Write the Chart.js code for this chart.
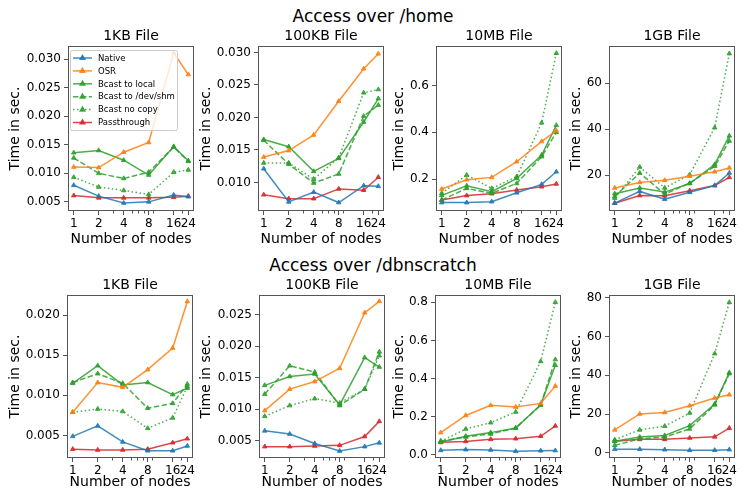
<!DOCTYPE html>
<html>
<head>
<meta charset="utf-8">
<script src="https://cdn.jsdelivr.net/npm/chart.js@4.4.0/dist/chart.umd.min.js"></script>
<style>
body { margin: 0; background: #fff; width: 740px; height: 492px; position: relative; overflow: hidden; font-family: "DejaVu Sans"; }
canvas { position: absolute; }
.sup { position: absolute; left: 0; width: 746px; text-align: center; font-size: 17px; color: #000; }
</style>
</head>
<body>
<div class="sup" style="top:6px">Access over /home</div>
<div class="sup" style="top:255px">Access over /dbnscratch</div>
<script>
const nodes = [1, 2, 4, 8, 16, 24];
const minorNodes = [3, 5, 6, 7, 9, 20];
const seriesNames = ['Native', 'OSR', 'Bcast to local', 'Bcast to /dev/shm', 'Bcast no copy', 'Passthrough'];
const fileTitles = ['1KB File', '100KB File', '10MB File', '1GB File'];

// rows follow seriesNames order
const home1KB = [
    [0.0079, 0.0060, 0.0048, 0.0050, 0.0062, 0.0059],
    [0.0111, 0.0110, 0.0137, 0.0154, 0.0311, 0.0273],
    [0.0136, 0.0140, 0.0123, 0.0097, 0.0147, 0.0122],
    [0.0127, 0.0100, 0.0091, 0.0102, 0.0146, 0.0121],
    [0.0093, 0.0076, 0.0070, 0.0063, 0.0102, 0.0106],
    [0.0061, 0.0057, 0.0057, 0.0057, 0.0058, 0.0060]
];
const home100KB = [
    [0.0121, 0.0070, 0.0085, 0.0069, 0.0095, 0.0094],
    [0.0139, 0.0149, 0.0173, 0.0225, 0.0275, 0.0298],
    [0.0166, 0.0155, 0.0117, 0.0137, 0.0193, 0.0229],
    [0.0165, 0.0128, 0.0099, 0.0113, 0.0202, 0.0219],
    [0.0130, 0.0130, 0.0105, 0.0138, 0.0238, 0.0243],
    [0.0081, 0.0075, 0.0075, 0.0090, 0.0088, 0.0108]
];
const home10MB = [
    [0.099, 0.099, 0.103, 0.141, 0.177, 0.231],
    [0.157, 0.197, 0.207, 0.274, 0.361, 0.407],
    [0.130, 0.171, 0.146, 0.203, 0.303, 0.430],
    [0.110, 0.160, 0.139, 0.181, 0.296, 0.400],
    [0.139, 0.217, 0.160, 0.210, 0.441, 0.739],
    [0.110, 0.129, 0.137, 0.153, 0.167, 0.179]
];
const home1GB = [
    [7.9, 13.0, 9.6, 12.6, 15.5, 21.0],
    [14.5, 16.9, 17.8, 19.6, 21.5, 23.2],
    [12.0, 14.5, 12.7, 16.4, 24.7, 37.1],
    [10.8, 21.0, 11.8, 16.6, 23.9, 34.9],
    [10.1, 23.6, 14.5, 20.3, 40.7, 72.8],
    [7.9, 11.2, 11.1, 13.3, 15.6, 19.1]
];
const dbn1KB = [
    [0.0049, 0.0062, 0.0042, 0.0031, 0.0031, 0.0037],
    [0.0079, 0.0116, 0.0110, 0.0132, 0.0159, 0.0217],
    [0.0115, 0.0137, 0.0113, 0.0116, 0.0101, 0.0109],
    [0.0116, 0.0127, 0.0115, 0.0084, 0.0090, 0.0114],
    [0.0079, 0.0083, 0.0080, 0.0059, 0.0072, 0.0111],
    [0.0033, 0.0032, 0.0032, 0.0033, 0.0041, 0.0046]
];
const dbn100KB = [
    [0.0066, 0.0061, 0.0046, 0.0034, 0.0041, 0.0047],
    [0.0098, 0.0132, 0.0144, 0.0165, 0.0253, 0.0271],
    [0.0138, 0.0152, 0.0156, 0.0107, 0.0182, 0.0167],
    [0.0124, 0.0169, 0.0159, 0.0106, 0.0132, 0.0191],
    [0.0089, 0.0106, 0.0117, 0.0110, 0.0132, 0.0185],
    [0.0041, 0.0041, 0.0042, 0.0043, 0.0057, 0.0081]
];
const dbn10MB = [
    [0.024, 0.028, 0.026, 0.019, 0.022, 0.023],
    [0.117, 0.207, 0.260, 0.251, 0.270, 0.361],
    [0.066, 0.098, 0.117, 0.141, 0.263, 0.470],
    [0.073, 0.094, 0.110, 0.141, 0.261, 0.500],
    [0.071, 0.136, 0.169, 0.225, 0.490, 0.800],
    [0.066, 0.071, 0.082, 0.085, 0.098, 0.152]
];
const dbn1GB = [
    [1.9, 1.9, 1.7, 1.4, 1.4, 1.7],
    [11.9, 20.1, 20.9, 24.3, 28.3, 30.0],
    [6.0, 8.2, 9.0, 14.1, 25.2, 41.4],
    [3.9, 7.3, 8.2, 12.4, 24.8, 40.9],
    [6.8, 11.9, 13.8, 20.6, 51.2, 77.6],
    [6.0, 7.0, 7.0, 7.7, 8.3, 12.8]
];

const yTicks1KBHome = [0.005, 0.010, 0.015, 0.020, 0.025, 0.030];
const yTicks100KBHome = [0.010, 0.015, 0.020, 0.025, 0.030];
const yTicks10MBHome = [0.2, 0.4, 0.6];
const yTicks1GBHome = [20, 40, 60];
const yTicks1KBDbn = [0.005, 0.010, 0.015, 0.020];
const yTicks100KBDbn = [0.005, 0.010, 0.015, 0.020, 0.025];
const yTicks10MBDbn = [0.0, 0.2, 0.4, 0.6, 0.8];
const yTicks1GBDbn = [0, 20, 40, 60, 80];

const colors = ['rgba(31,119,180,0.85)', 'rgba(255,127,14,0.85)', 'rgba(44,160,44,0.85)',
    'rgba(44,160,44,0.85)', 'rgba(44,160,44,0.85)', 'rgba(214,39,40,0.85)'];
const dashes = [[], [], [], [5.5, 2.4], [1.5, 2.5], []];
const FONT = '"DejaVu Sans"';
const PLOT_W = 126;
const TITLE_H = 19;

const panels = [
    { rows: home1KB, title: fileTitles[0], ticks: yTicks1KBHome, min: 0.0034, max: 0.0323, dec: 3, L: 68, tc: 15, T: 46, H: 165, xh: 37, legend: true },
    { rows: home100KB, title: fileTitles[1], ticks: yTicks100KBHome, min: 0.0056, max: 0.0310, dec: 3, L: 258, tc: 206, T: 46, H: 165, xh: 37 },
    { rows: home10MB, title: fileTitles[2], ticks: yTicks10MBHome, min: 0.063, max: 0.770, dec: 1, L: 436, tc: 399, T: 46, H: 165, xh: 37 },
    { rows: home1GB, title: fileTitles[3], ticks: yTicks1GBHome, min: 4.5, max: 76.1, dec: 0, L: 609, tc: 576, T: 46, H: 165, xh: 37 },
    { rows: dbn1KB, title: fileTitles[0], ticks: yTicks1KBDbn, min: 0.0022, max: 0.0225, dec: 3, L: 67, tc: 15, T: 295, H: 163, xh: 33 },
    { rows: dbn100KB, title: fileTitles[1], ticks: yTicks100KBDbn, min: 0.0023, max: 0.0281, dec: 3, L: 259, tc: 206, T: 295, H: 163, xh: 33 },
    { rows: dbn10MB, title: fileTitles[2], ticks: yTicks10MBDbn, min: -0.016, max: 0.838, dec: 1, L: 435, tc: 399, T: 295, H: 163, xh: 33 },
    { rows: dbn1GB, title: fileTitles[3], ticks: yTicks1GBDbn, min: -2.6, max: 81.4, dec: 0, L: 609, tc: 576, T: 295, H: 163, xh: 33 }
];

// axes box, minor x ticks and a title centred on the plot area (matplotlib style)
const framePlugin = {
    id: 'frame',
    afterDraw(chart, args, opts) {
        const { ctx, chartArea: a } = chart;
        const x = chart.scales.x;
        ctx.save();
        ctx.strokeStyle = '#555';
        ctx.lineWidth = 1;
        ctx.strokeRect(Math.round(a.left) + 0.5, Math.round(a.top) + 0.5, Math.round(a.width) - 1, Math.round(a.height) - 1);
        for (const v of minorNodes) {
            const px = Math.round(x.getPixelForValue(v)) + 0.5;
            ctx.beginPath();
            ctx.moveTo(px, a.bottom);
            ctx.lineTo(px, a.bottom + 2.5);
            ctx.stroke();
        }
        ctx.fillStyle = '#000';
        ctx.font = '14px ' + FONT;
        ctx.textAlign = 'center';
        ctx.textBaseline = 'middle';
        ctx.fillText(opts.text, (a.left + a.right) / 2, a.top - 10);
        ctx.restore();
    }
};

const legendPlugin = {
    id: 'boxLegend',
    afterDraw(chart) {
        const { ctx, chartArea: a } = chart;
        const bx = a.left + 2, by = a.top + 4, bw = 107, bh = 80;
        ctx.save();
        ctx.fillStyle = 'rgba(255,255,255,0.8)';
        ctx.strokeStyle = '#ccc';
        ctx.lineWidth = 1;
        ctx.beginPath();
        ctx.roundRect(bx + 0.5, by + 0.5, bw, bh, 2);
        ctx.fill();
        ctx.stroke();
        chart.data.datasets.forEach((ds, i) => {
            const y = by + 8 + i * 12.9;
            ctx.strokeStyle = ds.borderColor;
            ctx.fillStyle = ds.borderColor;
            ctx.lineWidth = 1.5;
            ctx.setLineDash(ds.borderDash);
            ctx.beginPath();
            ctx.moveTo(bx + 3, y);
            ctx.lineTo(bx + 22, y);
            ctx.stroke();
            ctx.setLineDash([]);
            Chart.helpers.drawPoint(ctx, { pointStyle: 'triangle', radius: 2.6, borderWidth: 1, rotation: 0 }, bx + 12.5, y);
            ctx.fillStyle = '#000';
            ctx.font = '8.5px ' + FONT;
            ctx.textBaseline = 'middle';
            ctx.fillText(ds.label, bx + 28, y + 0.5);
        });
        ctx.restore();
    }
};

function makeChart(p) {
    const left = Math.round(p.tc - 8.4);
    const yw = p.L - left;
    const w = yw + PLOT_W + 10;
    const h = TITLE_H + p.H + p.xh;
    const cv = document.createElement('canvas');
    cv.width = w;
    cv.height = h;
    cv.style.left = left + 'px';
    cv.style.top = (p.T - TITLE_H) + 'px';
    document.body.appendChild(cv);

    new Chart(cv, {
        type: 'line',
        data: {
            datasets: p.rows.map((vals, i) => ({
                label: seriesNames[i],
                data: nodes.map((n, j) => ({ x: n, y: vals[j] })),
                borderColor: colors[i],
                backgroundColor: colors[i],
                borderWidth: 1.5,
                borderDash: dashes[i],
                pointStyle: 'triangle',
                pointRadius: 2.6,
                pointBorderWidth: 1,
                tension: 0
            }))
        },
        options: {
            responsive: false,
            animation: false,
            devicePixelRatio: 1,
            layout: { padding: { top: TITLE_H, right: 10, bottom: 0, left: 0 } },
            plugins: {
                legend: { display: false },
                tooltip: { enabled: false },
                title: { display: false },
                frame: { text: p.title }
            },
            scales: {
                x: {
                    type: 'logarithmic',
                    min: 0.853, max: 28.1,
                    afterBuildTicks: s => { s.ticks = nodes.map(v => ({ value: v })); },
                    afterFit: s => { s.height = p.xh; },
                    ticks: {
                        autoSkip: false, maxRotation: 0, padding: 2, color: '#000',
                        font: { family: FONT, size: 12 },
                        callback: v => String(v)
                    },
                    grid: { display: true, drawOnChartArea: false, tickLength: 4, color: '#555' },
                    border: { display: false },
                    title: {
                        display: true, text: 'Number of nodes', color: '#000',
                        font: { family: FONT, size: 14 }, padding: 0
                    }
                },
                y: {
                    min: p.min, max: p.max,
                    afterBuildTicks: s => { s.ticks = p.ticks.map(v => ({ value: v })); },
                    afterFit: s => { s.width = yw; },
                    ticks: {
                        padding: 3, color: '#000',
                        font: { family: FONT, size: 12 },
                        callback: v => v.toFixed(p.dec)
                    },
                    grid: { display: true, drawOnChartArea: false, tickLength: 4, color: '#555' },
                    border: { display: false },
                    title: {
                        display: true, text: 'Time in sec.', color: '#000',
                        font: { family: FONT, size: 14 }, padding: 0
                    }
                }
            }
        },
        plugins: p.legend ? [framePlugin, legendPlugin] : [framePlugin]
    });
}

panels.forEach(makeChart);
</script>
</body>
</html>
